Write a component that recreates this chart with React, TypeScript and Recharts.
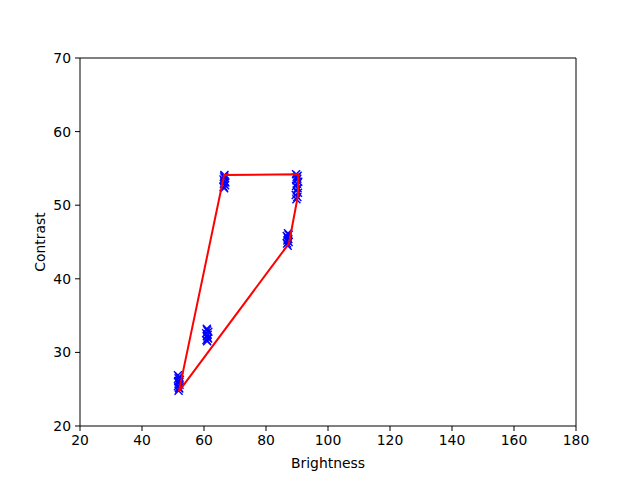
import { ScatterChart, Scatter, XAxis, YAxis, ReferenceLine } from 'recharts';

// measured points, one small cluster per image group
const brightnessA = [51.8, 52.0, 51.6, 52.1, 51.9, 51.7, 52.2, 51.8, 52.0, 51.6, 51.9, 52.1];
const contrastA = [24.8, 25.1, 25.4, 25.6, 25.9, 26.1, 26.3, 26.5, 26.7, 26.9, 25.2, 26.0];

const brightnessB = [61.0, 60.8, 61.3, 60.9, 61.2, 60.7, 61.4, 61.0, 60.9, 61.2];
const contrastB = [31.5, 31.7, 31.9, 32.2, 32.4, 32.6, 32.8, 33.0, 33.2, 32.0];

const brightnessC = [66.5, 66.3, 66.8, 66.4, 66.9, 66.6, 66.3, 66.7, 66.5, 66.6];
const contrastC = [52.3, 52.5, 52.7, 52.9, 53.1, 53.3, 53.5, 53.7, 53.9, 54.1];

const brightnessD = [87.0, 86.8, 87.3, 86.9, 87.2, 87.0, 86.7, 87.3, 87.1];
const contrastD = [44.5, 44.8, 45.0, 45.2, 45.4, 45.6, 45.8, 46.0, 46.2];

const brightnessE = [89.8, 90.1, 89.6, 90.3, 89.9, 90.2, 89.7, 90.0, 90.4, 89.8, 90.1, 89.9, 90.2, 89.7];
const contrastE = [50.8, 51.1, 51.4, 51.7, 52.0, 52.3, 52.6, 52.9, 53.2, 53.4, 53.6, 53.8, 54.0, 54.2];

// outline drawn through the cluster edges
const hullBrightness = [51.9, 65.7, 66.5, 90.4, 90.3, 87.4, 51.9];
const hullContrast = [24.7, 52.5, 54.1, 54.2, 51.3, 44.8, 24.7];

const xTicks = [20, 40, 60, 80, 100, 120, 140, 160, 180];
const yTicks = [20, 30, 40, 50, 60, 70];

const toPoints = (xs: number[], ys: number[]) => xs.map((x, i) => ({ x, y: ys[i] }));

const points = [
  ...toPoints(brightnessA, contrastA),
  ...toPoints(brightnessB, contrastB),
  ...toPoints(brightnessC, contrastC),
  ...toPoints(brightnessD, contrastD),
  ...toPoints(brightnessE, contrastE),
];
const hull = toPoints(hullBrightness, hullContrast);

const font = 'DejaVu Sans, sans-serif';
const tickStyle = { fill: '#000', fontSize: 13.9, fontFamily: font };

const XMarker = (props: any) => {
  const { cx, cy } = props;
  const r = 4;
  return (
    <g stroke="#0000ff" strokeWidth={1.4}>
      <line x1={cx - r} y1={cy - r} x2={cx + r} y2={cy + r} />
      <line x1={cx - r} y1={cy + r} x2={cx + r} y2={cy - r} />
    </g>
  );
};

const NoMarker = () => <g />;

const App = () => {
  return (
    <div style={{ position: 'absolute', left: 0, top: 0, background: '#fff' }}>
      <ScatterChart width={640} height={480} margin={{ top: 58, right: 64, bottom: 10, left: 20 }}>
        <XAxis
          type="number"
          dataKey="x"
          domain={[20, 180]}
          ticks={xTicks}
          height={44}
          tickSize={5}
          tickMargin={4}
          stroke="#000"
          tick={tickStyle}
          label={{ value: 'Brightness', position: 'insideBottom', offset: 2, fill: '#000', fontSize: 13.9, fontFamily: font }}
        />
        <YAxis
          type="number"
          dataKey="y"
          domain={[20, 70]}
          ticks={yTicks}
          width={60}
          tickSize={5}
          tickMargin={4}
          stroke="#000"
          tick={tickStyle}
          label={{ value: 'Contrast', angle: -90, position: 'insideLeft', offset: 20, textAnchor: 'middle', fill: '#000', fontSize: 13.9, fontFamily: font }}
        />
        {/* top and right edges of the frame */}
        <ReferenceLine y={70} stroke="#000" strokeWidth={1} />
        <ReferenceLine x={180} stroke="#000" strokeWidth={1} />
        <Scatter data={points} shape={XMarker} isAnimationActive={false} />
        <Scatter
          data={hull}
          shape={NoMarker}
          line={{ stroke: '#ff0000', strokeWidth: 2 }}
          isAnimationActive={false}
        />
      </ScatterChart>
    </div>
  );
};

export default App;
